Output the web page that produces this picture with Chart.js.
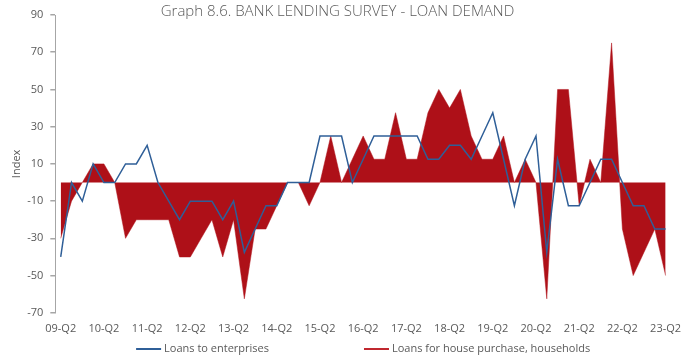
<!DOCTYPE html>
<html>
<head>
<meta charset="utf-8">
<script src="https://cdn.jsdelivr.net/npm/chart.js@4.4.1/dist/chart.umd.min.js"></script>
<style>
  html, body { margin: 0; padding: 0; background: #fff; }
  #wrap { width: 694px; height: 360px; }
</style>
</head>
<body>
<div id="wrap"><canvas id="myChart" width="694" height="360"></canvas></div>
<script>
// quarters 09-Q2 .. 23-Q2
const quarters = [
  '09-Q2', '09-Q3', '09-Q4',
  '10-Q1', '10-Q2', '10-Q3', '10-Q4',
  '11-Q1', '11-Q2', '11-Q3', '11-Q4',
  '12-Q1', '12-Q2', '12-Q3', '12-Q4',
  '13-Q1', '13-Q2', '13-Q3', '13-Q4',
  '14-Q1', '14-Q2', '14-Q3', '14-Q4',
  '15-Q1', '15-Q2', '15-Q3', '15-Q4',
  '16-Q1', '16-Q2', '16-Q3', '16-Q4',
  '17-Q1', '17-Q2', '17-Q3', '17-Q4',
  '18-Q1', '18-Q2', '18-Q3', '18-Q4',
  '19-Q1', '19-Q2', '19-Q3', '19-Q4',
  '20-Q1', '20-Q2', '20-Q3', '20-Q4',
  '21-Q1', '21-Q2', '21-Q3', '21-Q4',
  '22-Q1', '22-Q2', '22-Q3', '22-Q4',
  '23-Q1', '23-Q2'
];

const enterprises = [
  -40, 0, -10,
  10, 0, 0, 10,
  10, 20, 0, -10,
  -20, -10, -10, -10,
  -20, -10, -37.5, -25,
  -12.5, -12.5, 0, 0,
  0, 25, 25, 25,
  0, 12.5, 25, 25,
  25, 25, 25, 12.5,
  12.5, 20, 20, 12.5,
  25, 37.5, 12.5, -12.5,
  12.5, 25, -37.5, 12.5,
  -12.5, -12.5, 0, 12.5,
  12.5, 0, -12.5, -12.5,
  -25, -25
];

const households = [
  -30, -10, 0,
  10, 10, 0, -30,
  -20, -20, -20, -20,
  -40, -40, -30, -20,
  -40, -20, -62.5, -25,
  -25, -12.5, 0, 0,
  -12.5, 0, 25, 0,
  12.5, 25, 12.5, 12.5,
  37.5, 12.5, 12.5, 37.5,
  50, 40, 50, 25,
  12.5, 12.5, 25, 0,
  12.5, 0, -62.5, 50,
  50, -12.5, 12.5, 0,
  75, -25, -50, -37.5,
  -25, -50
];

const yTicks = [-70, -50, -30, -10, 10, 30, 50, 70, 90];

const FONT = "'Open Sans', 'DejaVu Sans', sans-serif";
const GREY_TEXT = '#595959';
const AXIS_GREY = '#a6a6a6';
const BLUE = '#2f5f98';
const RED = '#ae1018';

// legend drawn by hand so the two entries can sit far apart
const wideLegend = {
  id: 'wideLegend',
  afterDraw(chart) {
    const ctx = chart.ctx;
    const area = chart.chartArea;
    const gap = 95;
    const sample = 25;
    ctx.save();
    ctx.font = '11px ' + FONT;
    const items = chart.data.datasets.map(ds => ({
      text: ds.label,
      color: ds.legendColor,
      w: sample + 3 + ctx.measureText(ds.label).width
    }));
    const total = items.reduce((s, it) => s + it.w, 0) + gap * (items.length - 1);
    let x = (area.left + area.right) / 2 - total / 2;
    const y = 349;
    items.forEach(it => {
      ctx.fillStyle = it.color;
      ctx.fillRect(x, y - 1, sample, 2);
      ctx.fillStyle = GREY_TEXT;
      ctx.textBaseline = 'middle';
      ctx.textAlign = 'left';
      ctx.fillText(it.text, x + sample + 3, y);
      x += it.w + gap;
    });
    ctx.restore();
  }
};

const data = {
  labels: quarters,
  datasets: [
    {
      label: 'Loans to enterprises',
      data: enterprises,
      borderColor: BLUE,
      legendColor: BLUE,
      borderWidth: 1.5,
      pointRadius: 0,
      tension: 0,
      fill: false,
      order: 0
    },
    {
      label: 'Loans for house purchase, households',
      data: households,
      borderColor: RED,
      backgroundColor: RED,
      legendColor: '#c0282f',
      borderWidth: 0.5,
      pointRadius: 0,
      tension: 0,
      fill: 'origin',
      order: 1
    }
  ]
};

const config = {
  type: 'line',
  data: data,
  plugins: [wideLegend],
  options: {
    responsive: false,
    animation: false,
    layout: {
      padding: { left: 4, right: 23, top: 0, bottom: 16 }
    },
    plugins: {
      legend: { display: false },
      tooltip: { enabled: false },
      title: {
        display: true,
        text: 'Graph 8.6. BANK LENDING SURVEY - LOAN DEMAND',
        color: GREY_TEXT,
        font: { family: FONT, size: 15, weight: '300' },
        padding: { top: 3, bottom: -6 }
      }
    },
    scales: {
      x: {
        offset: true,
        grid: { display: false, drawTicks: false },
        border: { display: false },
        ticks: {
          autoSkip: false,
          maxRotation: 0,
          padding: 9,
          color: GREY_TEXT,
          font: { family: FONT, size: 11 },
          callback: function(val, idx) {
            return idx % 4 === 0 ? this.getLabelForValue(val) : '';
          }
        }
      },
      y: {
        min: -70,
        max: 90,
        afterBuildTicks: axis => {
          axis.ticks = yTicks.map(v => ({ value: v }));
        },
        border: { display: true, color: AXIS_GREY, width: 1 },
        grid: {
          color: c => (c.tick && c.tick.value === 0 ? AXIS_GREY : 'transparent'),
          lineWidth: 1.5,
          tickColor: AXIS_GREY,
          tickLength: 5
        },
        ticks: {
          padding: 7,
          color: GREY_TEXT,
          font: { family: FONT, size: 11 }
        },
        title: {
          display: true,
          text: 'Index',
          color: GREY_TEXT,
          font: { family: FONT, size: 11 },
          padding: { top: 6, bottom: -3 }
        }
      }
    }
  }
};

const myChart = new Chart(
  document.getElementById('myChart').getContext('2d'),
  config
);
</script>
</body>
</html>
